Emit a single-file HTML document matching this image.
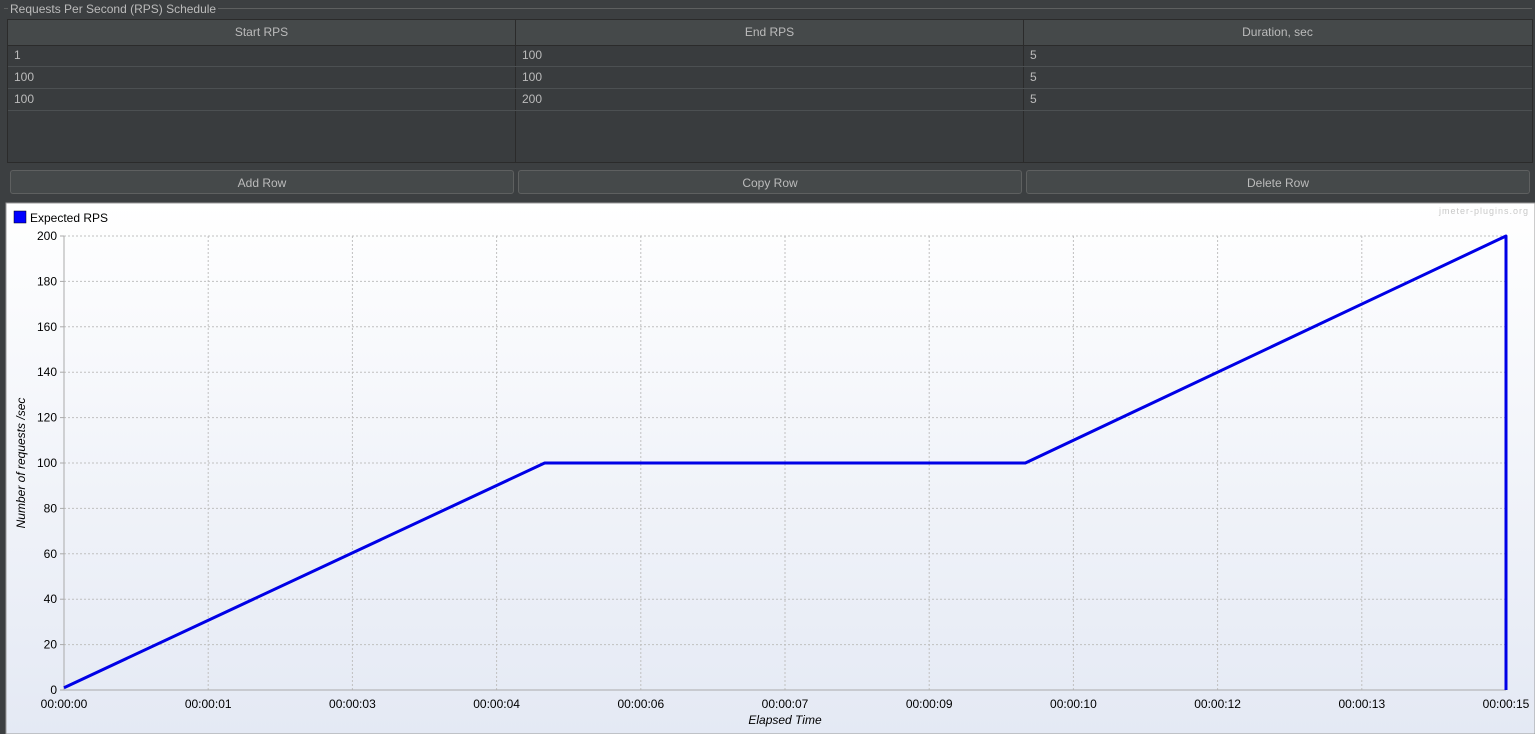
<!DOCTYPE html>
<html><head><meta charset="utf-8"><style>
body{margin:0;width:1535px;height:734px;background:#3c3f41;font-family:"Liberation Sans",sans-serif;overflow:hidden;position:relative}
.abs{position:absolute}
.t{color:#bbbbbb;font-size:12px}
.cell{position:absolute;color:#bbbbbb;font-size:12px;line-height:22px;padding-left:6px;box-sizing:border-box}
.btn{position:absolute;top:170px;height:24px;border:1px solid #5e6060;border-radius:3px;background:#45494a;color:#bbbbbb;font-size:12px;line-height:24px;text-align:center;box-sizing:border-box}
</style></head><body>
<div class="abs" style="left:4px;top:8px;width:1528px;height:1px;background:#5e6060"></div>
<div class="abs t" style="left:8px;top:2px;background:#3c3f41;padding:0 2px">Requests Per Second (RPS) Schedule</div>
<div class="abs" style="left:7px;top:19px;width:1526px;height:144px;background:#393c3e;border:1px solid #2b2b2b;box-sizing:border-box">
 <div class="abs" style="left:0;top:0;width:1524px;height:25px;background:#45494a;border-bottom:1px solid #2b2b2b"></div>
</div>
<div id="tbl"></div>
<div class="btn" style="left:10px;width:504px">Add Row</div>
<div class="btn" style="left:518px;width:504px">Copy Row</div>
<div class="btn" style="left:1026px;width:504px">Delete Row</div>
<svg class="abs" style="left:0;top:0" width="1535" height="734">
<defs><linearGradient id="g" x1="0" y1="0" x2="0" y2="1"><stop offset="0" stop-color="#ffffff"/><stop offset="1" stop-color="#e4e9f4"/></linearGradient></defs>
<rect x="6" y="203" width="1529" height="531" fill="url(#g)" stroke="#9a9a9a"/>
<g id="chart"></g>
</svg>
<script>
const headers=["Start RPS","End RPS","Duration, sec"];
const rows=[["1","100","5"],["100","100","5"],["100","200","5"]];
const times=[0,5,10,15,15];
const rps=[1,100,100,200,0];
const yTicks=[0,20,40,60,80,100,120,140,160,180,200];
const xTickLabels=["00:00:00","00:00:01","00:00:03","00:00:04","00:00:06","00:00:07","00:00:09","00:00:10","00:00:12","00:00:13","00:00:15"];
const xTickVals=[0,1.5,3,4.5,6,7.5,9,10.5,12,13.5,15];

const tbl=document.getElementById('tbl');
const colX=[8,516,1024],colW=507;
headers.forEach((h,i)=>{const d=document.createElement('div');d.className='cell';d.style.cssText=`left:${colX[i]}px;top:21px;width:${colW}px;height:23px;text-align:center;padding:0;line-height:23px`;d.textContent=h;


tbl.appendChild(d);});
for(let i=1;i<3;i++){const l=document.createElement('div');l.className='abs';l.style.cssText=`left:${colX[i]-1}px;top:20px;width:1px;height:142px;background:#2b2b2b`;


tbl.appendChild(l);}
rows.forEach((r,ri)=>{const y=45+ri*22;
 const ln=document.createElement('div');ln.className='abs';ln.style.cssText=`left:8px;top:${y+21}px;width:1524px;height:1px;background:#4c5052`;
 
 
 tbl.appendChild(ln);
 r.forEach((v,ci)=>{const d=document.createElement('div');d.className='cell';d.style.cssText=`left:${colX[ci]}px;top:${y}px;width:${colW}px;height:21px;line-height:21px`;d.textContent=v;
 
 
 tbl.appendChild(d);});});

const NS='http://www.w3.org/2000/svg';const g=document.getElementById('chart');
const X0=64,X1=1506,Y0=690,Y1=236;
const xs=t=>X0+(t/15)*(X1-X0);const ys=v=>Y0-(v/200)*(Y0-Y1);
function el(tag,a,txt){const e=document.createElementNS(NS,tag);for(const k in a)e.setAttribute(k,a[k]);if(txt!==undefined)e.textContent=txt;g.appendChild(e);return e;}
yTicks.forEach(v=>{const y=ys(v);
 if(v>0){const l=el('line',{x1:X0,x2:X1,y1:y,y2:y,stroke:'#c0c0c0','stroke-dasharray':'2,2'});
 
 }
 const t=el('text',{x:57,y:y+4,'text-anchor':'end','font-size':12,fill:'#000'},String(v));
 
 
 el('line',{x1:60,x2:64,y1:y,y2:y,stroke:'#aaa'});});
xTickVals.forEach((v,i)=>{const x=xs(v);
 if(i>0){const l=el('line',{x1:x,x2:x,y1:Y1,y2:Y0,stroke:'#c0c0c0','stroke-dasharray':'2,2'});
 
 }
 const t=el('text',{x:x,y:708,'text-anchor':'middle','font-size':12,fill:'#000'},xTickLabels[i]);
 
 });
el('line',{x1:X0,x2:X0,y1:Y1,y2:Y0,stroke:'#aaa'});
el('line',{x1:X0,x2:X1,y1:Y0,y2:Y0,stroke:'#aaa'});
const pts=times.map((t,i)=>xs(t)+','+ys(rps[i])).join(' ');
const pl=el('polyline',{points:pts,fill:'none',stroke:'#0000e6','stroke-width':3,'stroke-linejoin':'round'});


const xt=el('text',{x:785,y:724,'text-anchor':'middle','font-size':12,'font-style':'italic',fill:'#000'},'Elapsed Time');


const yt=el('text',{x:0,y:0,'text-anchor':'middle','font-size':12,'font-style':'italic',fill:'#000',transform:'translate(25,463) rotate(-90)'},'Number of requests /sec');


const lr=el('rect',{x:14,y:211,width:12,height:12,fill:'#0000ff',stroke:'#000','stroke-width':0.5});


const lt=el('text',{x:30,y:222,'font-size':12,fill:'#000'},'Expected RPS');


const wm=el('text',{x:1529,y:214,'text-anchor':'end','font-size':9,fill:'#c8c8c8','letter-spacing':'1'},'jmeter-plugins.org');


</script>
</body></html>
